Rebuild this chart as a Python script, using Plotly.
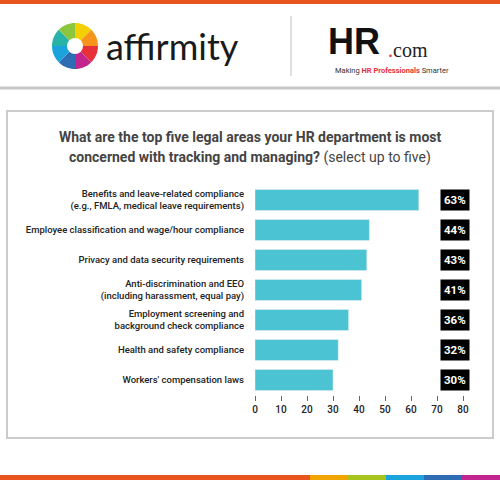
import math
import plotly.graph_objects as go

categories = ["Benefits and leave-related compliance<br>(e.g., FMLA, medical leave requirements)",
              "Employee classification and wage/hour compliance",
              "Privacy and data security requirements",
              "Anti-discrimination and EEO<br>(including harassment, equal pay)",
              "Employment screening and<br>background check compliance",
              "Health and safety compliance",
              "Workers' compensation laws"]
values = [63, 44, 43, 41, 36, 32, 30]
tick_vals = [0, 10, 20, 30, 40, 50, 60, 70, 80]

L, R, T, B = 255, 463, 185, 395
def px(x): return (x - L) / (R - L)
def py(y): return (B - y) / (B - T)

fig = go.Figure(go.Bar(x=values, y=categories, orientation="h", width=0.7,
                       marker=dict(color="#4cc3d3"), hoverinfo="skip"))

shapes = []
def rect(x0, y0, x1, y1, fill, line=None, lw=0):
    shapes.append(dict(type="rect", xref="paper", yref="paper", x0=px(x0), x1=px(x1), y0=py(y1), y1=py(y0),
                       fillcolor=fill, line=dict(color=line or fill, width=lw), layer="below"))
def line(x0, y0, x1, y1, color, w):
    shapes.append(dict(type="line", xref="paper", yref="paper", x0=px(x0), x1=px(x1), y0=py(y0), y1=py(y1),
                       line=dict(color=color, width=w)))

rect(0, 0, 500, 4, "#e8541e")
rect(7, 111, 493, 438, "white", "#cccccc", 2)
line(0, 88, 500, 88, "#c8c8c8", 3)
line(291, 16, 291, 76, "#c0c0c0", 1)
stripe = [(0, 310, "#e8541e"), (310, 348, "#f0a500"), (348, 386, "#a6c41b"),
          (386, 424, "#1aa3dc"), (424, 462, "#2e6db4"), (462, 500, "#c2258e")]
for a, b, c in stripe:
    rect(a, 475, b, 480, c)

# affirmity logo wheel
cx, cy, r = 75, 46, 23
cols = ["#f5d000", "#f7941d", "#e8303a", "#c2258e", "#2e6db4", "#1aa3dc", "#27b3a6", "#8cc63f"]
n = len(cols)
for i, c in enumerate(cols):
    a0 = -math.pi / 2 + i * 2 * math.pi / n
    a1 = a0 + 2 * math.pi / n
    pts = [(cx, cy)]
    for k in range(9):
        a = a0 + (a1 - a0) * k / 8
        pts.append((cx + r * math.cos(a), cy + r * math.sin(a)))
    path = "M " + " L ".join(f"{px(x):.4f},{py(y):.4f}" for x, y in pts) + " Z"
    shapes.append(dict(type="path", xref="paper", yref="paper", path=path, fillcolor=c, line=dict(width=0)))
shapes.append(dict(type="circle", xref="paper", yref="paper", x0=px(cx - 8), x1=px(cx + 8),
                   y0=py(cy + 8), y1=py(cy - 8), fillcolor="white", line=dict(width=0)))

ann = []
def text(x, y, t, size, color="#222", xanchor="center", family="Roboto", **kw):
    ann.append(dict(xref="paper", yref="paper", x=px(x), y=py(y), text=t, showarrow=False,
                    xanchor=xanchor, yanchor="middle", font=dict(size=size, color=color, family=family), **kw))

text(104, 46, "affirmity", 36, "#1a1a1a", "left", "Lato")
text(326, 41, "<b>HR</b>", 36, "#111", "left", "Liberation Sans")
text(386, 50, "<span style='color:#e8303a'>.</span>com", 20, "#222", "left", "Liberation Serif")
text(333, 71, "Making <span style='color:#e8303a'><b>HR Professionals</b></span> Smarter", 7.5, "#333", "left", "Roboto")
text(250, 137, "<b>What are the top five legal areas your HR department is most</b>", 14, "#444")
text(250, 157, "<b>concerned with tracking and managing?</b> (select up to five)", 14, "#444")

for i, v in enumerate(values):
    ann.append(dict(xref="paper", yref="y", x=px(455), y=i, text=f"<b>{v}%</b>", showarrow=False,
                    bgcolor="black", font=dict(color="white", size=11.5, family="Roboto"),
                    borderpad=3, xanchor="center"))

fig.update_layout(
    width=500, height=480, margin=dict(l=L, r=500 - R, t=T, b=480 - B),
    paper_bgcolor="white", plot_bgcolor="white", showlegend=False,
    shapes=shapes, annotations=ann, bargap=0.3,
    xaxis=dict(range=[0, 80], tickvals=tick_vals, showgrid=False, zeroline=False, showline=False,
               ticks="outside", ticklen=5, tickcolor="#666",
               tickfont=dict(size=10, color="#222", family="Roboto", weight=500), fixedrange=True),
    yaxis=dict(autorange="reversed", showgrid=False, showline=False, ticks="", ticklabelstandoff=10,
               tickfont=dict(size=9.5, color="#222", family="Roboto", weight=500), fixedrange=True),
)
fig.write_html("out.html", config={"displayModeBar": False})
with open("out.html", encoding="utf-8") as f:
    html = f.read()
html = html.replace("<body>", "<body style=\"margin:0;overflow:hidden\">", 1)
with open("out.html", "w", encoding="utf-8") as f:
    f.write(html)
